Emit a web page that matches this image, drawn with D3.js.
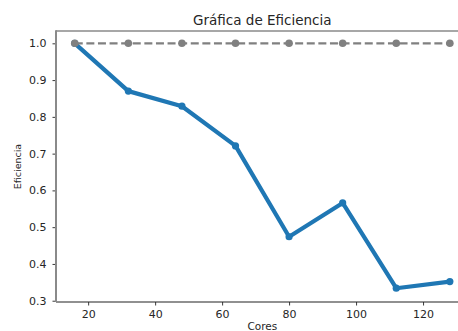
<!DOCTYPE html>
<html>
<head>
<meta charset="utf-8">
<script src="https://cdn.jsdelivr.net/npm/d3@7"></script>
<style>
  html, body { margin: 0; padding: 0; background: #fff; overflow: hidden; }
  svg { display: block; font-family: "DejaVu Sans", sans-serif; }
</style>
</head>
<body>
<svg id="chart" width="458" height="331"></svg>
<script>
// Efficiency per core count, plus the ideal (1.0) reference line
const cores = [16, 32, 48, 64, 80, 96, 112, 128];
const efficiency = [1.0, 0.870, 0.829, 0.721, 0.474, 0.566, 0.334, 0.352];
const ideal = [1.0, 1.0, 1.0, 1.0, 1.0, 1.0, 1.0, 1.0];
const xTicks = [20, 40, 60, 80, 100, 120];
const yTicks = [0.3, 0.4, 0.5, 0.6, 0.7, 0.8, 0.9, 1.0];

const title = "Gráfica de Eficiencia";
const xLabel = "Cores";
const yLabel = "Eficiencia";

const svg = d3.select("#chart");
const plotL = 56, plotR = 468.6, plotT = 31, plotB = 302;

const x = d3.scaleLinear().domain([10.4, 133.6]).range([plotL, plotR]);
const y = d3.scaleLinear().domain([0.2965, 1.0335]).range([plotB, plotT]);

const textColor = "#262626";

// axes
const xAxis = svg.append("g")
  .attr("transform", `translate(0,${plotB})`)
  .call(d3.axisBottom(x).tickValues(xTicks).tickSize(3.5).tickPadding(4.5).tickFormat(d3.format("d")));
const yAxis = svg.append("g")
  .attr("transform", `translate(${plotL},0)`)
  .call(d3.axisLeft(y).tickValues(yTicks).tickSize(3.5).tickPadding(6).tickFormat(d3.format(".1f")));

[xAxis, yAxis].forEach(g => {
  g.select(".domain").remove();
  g.selectAll("line").attr("stroke", "#222").attr("stroke-width", 0.9);
  g.selectAll("text").attr("fill", textColor).style("font-size", "11px")
    .style("font-family", "'DejaVu Sans', sans-serif");
});

// spines
svg.append("line").attr("x1", plotL).attr("x2", plotR).attr("y1", plotB).attr("y2", plotB)
  .attr("stroke", "#222").attr("stroke-width", 1.1);
svg.append("line").attr("x1", plotL).attr("x2", plotR).attr("y1", plotT).attr("y2", plotT)
  .attr("stroke", "#8a8a8a").attr("stroke-width", 1.6);
svg.append("line").attr("x1", plotL).attr("x2", plotL).attr("y1", plotT - 0.8).attr("y2", plotB)
  .attr("stroke", "#8a8a8a").attr("stroke-width", 2);

const line = d3.line().x((d, i) => x(cores[i])).y(d => y(d));

// measured efficiency
svg.append("path").datum(efficiency)
  .attr("d", line).attr("fill", "none")
  .attr("stroke", "#1f77b4").attr("stroke-width", 4.2)
  .attr("stroke-linejoin", "round").attr("stroke-linecap", "butt");
svg.append("g").selectAll("circle").data(efficiency).join("circle")
  .attr("cx", (d, i) => x(cores[i])).attr("cy", d => y(d)).attr("r", 3.6)
  .attr("fill", "#1f77b4");

// ideal efficiency
svg.append("path").datum(ideal)
  .attr("d", line).attr("fill", "none")
  .attr("stroke", "#808080").attr("stroke-width", 2.2)
  .attr("stroke-dasharray", "8,3.6");
svg.append("g").selectAll("circle").data(ideal).join("circle")
  .attr("cx", (d, i) => x(cores[i])).attr("cy", d => y(d)).attr("r", 3.8)
  .attr("fill", "#808080");

// labels
svg.append("text").attr("x", (plotL + plotR) / 2).attr("y", 24.5)
  .attr("text-anchor", "middle").attr("fill", textColor)
  .style("font-size", "13.5px").text(title);
svg.append("text").attr("x", (plotL + plotR) / 2).attr("y", 330)
  .attr("text-anchor", "middle").attr("fill", textColor)
  .style("font-size", "10.5px").text(xLabel);
svg.append("text")
  .attr("transform", `translate(21,${(plotT + plotB) / 2}) rotate(-90)`)
  .attr("text-anchor", "middle").attr("fill", textColor)
  .style("font-size", "9.5px").text(yLabel);
</script>
</body>
</html>
